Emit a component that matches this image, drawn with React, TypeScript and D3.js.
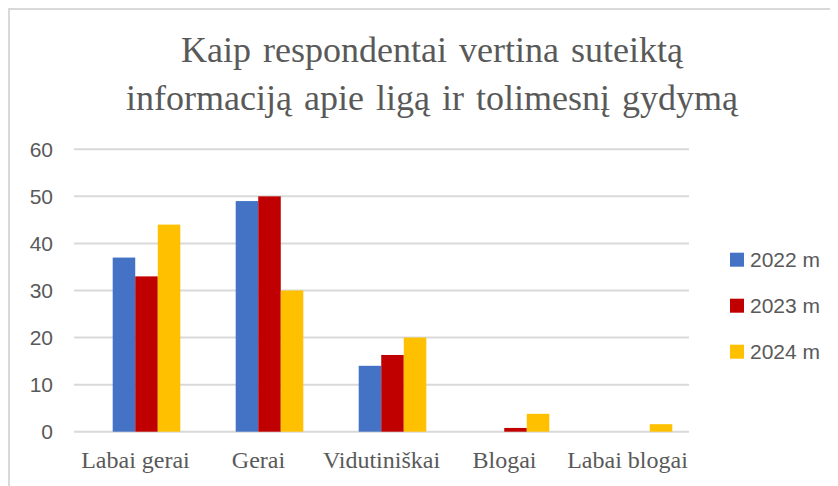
import React from "react";
import * as d3 from "d3";

const categories = ["Labai gerai", "Gerai", "Vidutiniškai", "Blogai", "Labai blogai"];
const seriesNames = ["2022 m", "2023 m", "2024 m"];
const values2022 = [37, 49, 14, 0, 0];
const values2023 = [33, 50, 16.3, 0.8, 0];
const values2024 = [44, 30, 20, 3.8, 1.6];
const yTicks = [0, 10, 20, 30, 40, 50, 60];
const colors = ["#4472C4", "#C00000", "#FFC000"];

const WIDTH = 830;
const HEIGHT = 478;
const PLOT_LEFT = 66;
const PLOT_RIGHT = 681;
const PLOT_TOP = 141.3;
const PLOT_BOTTOM = 423.7;
const GROUP_WIDTH = 67.6;
const BAR_SHIFT = 11; // bars sit a bit right of the label centres in the original

const GRID = "#d9d9d9";
const TEXT = "#595959";

export default function App() {
  const series = [values2022, values2023, values2024];

  const x0 = d3.scaleBand<string>().domain(categories).range([PLOT_LEFT, PLOT_RIGHT]);
  const x1 = d3.scaleBand<string>().domain(seriesNames).range([0, GROUP_WIDTH]);
  const y = d3.scaleLinear().domain([0, 60]).range([PLOT_BOTTOM, PLOT_TOP]);

  return (
    <svg width={WIDTH} height={HEIGHT} style={{ display: "block" }}>
      <rect x={1} y={1} width={WIDTH + 20} height={HEIGHT + 20} fill="white" stroke={GRID} strokeWidth={2} />

      <text
        x={424}
        textAnchor="middle"
        fontFamily="'Liberation Serif', 'Times New Roman', serif"
        fontSize={36}
        fill={TEXT}
        wordSpacing={3}
      >
        <tspan x={424} y={54}>Kaip respondentai vertina suteiktą</tspan>
        <tspan x={424} y={102}>informaciją apie ligą ir tolimesnį gydymą</tspan>
      </text>

      {yTicks.map((t) => (
        <g key={t}>
          <line x1={PLOT_LEFT} x2={PLOT_RIGHT} y1={y(t)} y2={y(t)} stroke={GRID} strokeWidth={2} />
          <text
            x={45}
            y={y(t)}
            textAnchor="end"
            dominantBaseline="central"
            fontFamily="'Liberation Sans', Arial, sans-serif"
            fontSize={21}
            fill={TEXT}
          >
            {t}
          </text>
        </g>
      ))}

      {categories.map((c, ci) => {
        const groupStart = (x0(c) ?? 0) + x0.bandwidth() / 2 - GROUP_WIDTH / 2 + BAR_SHIFT;
        return (
          <g key={c}>
            {series.map((vals, si) =>
              vals[ci] > 0 ? (
                <rect
                  key={si}
                  x={groupStart + (x1(seriesNames[si]) ?? 0)}
                  y={y(vals[ci])}
                  width={x1.bandwidth()}
                  height={y(0) - y(vals[ci])}
                  fill={colors[si]}
                />
              ) : null
            )}
            <text
              x={(x0(c) ?? 0) + x0.bandwidth() / 2}
              y={460}
              textAnchor="middle"
              fontFamily="'Liberation Serif', 'Times New Roman', serif"
              fontSize={24}
              fill={TEXT}
            >
              {c}
            </text>
          </g>
        );
      })}

      {seriesNames.map((s, i) => {
        const cy = 251.7 + i * 46;
        return (
          <g key={s}>
            <rect x={722} y={cy - 7} width={14} height={14} fill={colors[i]} />
            <text
              x={742}
              y={cy}
              dominantBaseline="central"
              fontFamily="'Liberation Sans', Arial, sans-serif"
              fontSize={21}
              fill={TEXT}
            >
              {s}
            </text>
          </g>
        );
      })}
    </svg>
  );
}
